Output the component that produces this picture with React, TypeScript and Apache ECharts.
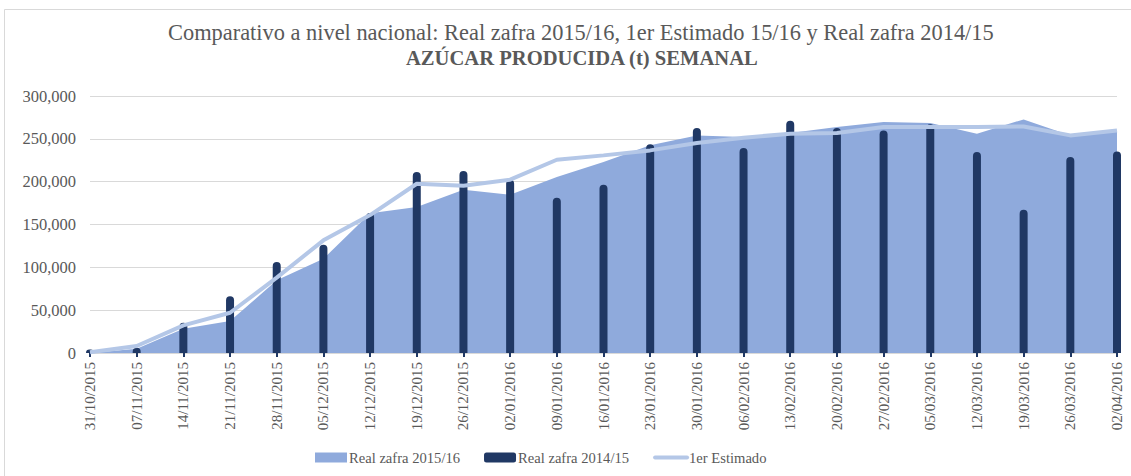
import React, { useEffect, useRef } from "react";
import * as echarts from "echarts";

const categories = [
  "31/10/2015", "07/11/2015", "14/11/2015", "21/11/2015", "28/11/2015", "05/12/2015",
  "12/12/2015", "19/12/2015", "26/12/2015", "02/01/2016", "09/01/2016", "16/01/2016",
  "23/01/2016", "30/01/2016", "06/02/2016", "13/02/2016", "20/02/2016", "27/02/2016",
  "05/03/2016", "12/03/2016", "19/03/2016", "26/03/2016", "02/04/2016",
];

const real1516 = [
  0, 5000, 28400, 37300, 84800, 110000, 163000, 170400, 190600, 184800, 205400, 223000,
  242400, 254000, 252100, 256700, 263700, 269600, 268400, 256000, 272700, 254000, 259800,
];

const real1415 = [
  4000, 6000, 35400, 66100, 106200, 126400, 163400, 211200, 212400, 202300, 181300, 196500,
  243600, 262600, 239300, 271100, 262600, 259800, 266900, 234600, 167300, 228700, 235300,
];

const estimado = [
  1000, 8200, 32300, 47000, 88000, 131500, 161000, 197600, 195300, 202300, 225600, 230700,
  236500, 245100, 251300, 256000, 256700, 263700, 263700, 263700, 264500, 254000, 259800,
];

const yTicks = [0, 50000, 100000, 150000, 200000, 250000, 300000];

const titleLine1 = "Comparativo a nivel nacional: Real zafra 2015/16, 1er Estimado 15/16 y Real zafra 2014/15";
const titleLine2 = "AZÚCAR PRODUCIDA (t) SEMANAL";

const FONT = "'Liberation Serif', 'Times New Roman', serif";

export default function App() {
  const ref = useRef<HTMLDivElement>(null);
  useEffect(() => {
    if (!ref.current) return;
    const chart = echarts.init(ref.current, undefined, { renderer: "svg" });
    chart.setOption({
      animation: false,
      backgroundColor: "#ffffff",
      textStyle: { fontFamily: FONT },
      title: [
        {
          text: titleLine1,
          left: 163,
          top: 16,
          textStyle: { fontFamily: FONT, fontSize: 22.4, fontWeight: "normal", color: "#595959" },
        },
        {
          text: titleLine2,
          left: 401,
          top: 42,
          textStyle: { fontFamily: FONT, fontSize: 20.6, fontWeight: "bold", color: "#595959" },
        },
      ],
      graphic: [
        {
          type: "rect",
          shape: { x: 4.5, y: 9.5, width: 1140, height: 480 },
          style: { fill: "none", stroke: "#d9d9d9", lineWidth: 1 },
          silent: true,
        },
      ],
      legend: {
        left: 310,
        top: 445,
        itemWidth: 32,
        itemHeight: 10,
        itemGap: 24,
        textStyle: { fontFamily: FONT, fontSize: 14.6, color: "#595959", padding: [0, 0, 0, -3] },
        data: [
          { name: "Real zafra 2015/16", icon: "rect" },
          { name: "Real zafra 2014/15", icon: "roundRect" },
          {
            name: "1er Estimado",
            itemStyle: { opacity: 0 },
            lineStyle: { width: 4, color: "#b4c7e7", cap: "round" },
          },
        ],
      },
      grid: { left: 90, right: 14, top: 96, bottom: 123, containLabel: false },
      xAxis: {
        type: "category",
        data: categories,
        boundaryGap: false,
        axisLine: { show: true, lineStyle: { color: "#d9d9d9", width: 1 } },
        axisTick: { show: true, length: 4, lineStyle: { color: "#203864", width: 2 } },
        axisLabel: {
          rotate: 90,
          interval: 0,
          margin: 9,
          fontFamily: FONT,
          fontSize: 15,
          color: "#595959",
        },
      },
      yAxis: {
        type: "value",
        min: 0,
        max: 300000,
        interval: 50000,
        axisLine: { show: false },
        axisTick: { show: false },
        splitLine: { lineStyle: { color: "#d9d9d9", width: 1 } },
        axisLabel: {
          margin: 14,
          fontFamily: FONT,
          fontSize: 16.5,
          color: "#595959",
          formatter: (v: number) => (yTicks.includes(v) ? v.toLocaleString("en-US") : ""),
        },
      },
      series: [
        {
          name: "Real zafra 2015/16",
          type: "line",
          data: real1516,
          symbol: "none",
          lineStyle: { width: 0, color: "#8faadc" },
          itemStyle: { color: "#8faadc" },
          areaStyle: { color: "#8faadc", opacity: 1 },
          z: 1,
        },
        {
          name: "Real zafra 2014/15",
          type: "bar",
          data: real1415,
          barWidth: 8,
          itemStyle: { color: "#203864", borderRadius: [4, 4, 0, 0] },
          z: 2,
        },
        {
          name: "1er Estimado",
          type: "line",
          data: estimado,
          symbol: "none",
          lineStyle: { width: 4, color: "#b4c7e7" },
          itemStyle: { color: "#b4c7e7" },
          z: 3,
        },
      ],
    });
    return () => chart.dispose();
  }, []);
  return (
    <div
      ref={ref}
      style={{ position: "absolute", left: 0, top: 0, width: 1131, height: 476 }}
    />
  );
}
